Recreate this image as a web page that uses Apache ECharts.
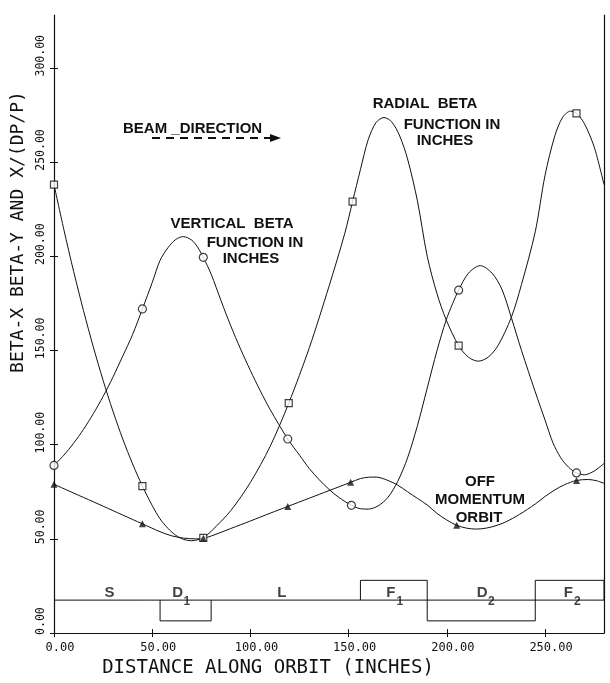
<!DOCTYPE html>
<html><head><meta charset="utf-8">
<script src="https://cdn.jsdelivr.net/npm/echarts@6/dist/echarts.min.js"></script>
<style>html,body{margin:0;padding:0;background:#fff}#c{width:610px;height:683px}</style>
</head><body><div id="c"></div>
<script>
// ---- data ----
const xTicks = [0, 50, 100, 150, 200, 250];
const yTicks = [0, 50, 100, 150, 200, 250, 300];

const radialCurve = [[0,238],[5,214.2],[10,191.9],[15,171.2],[20,151.9],[25,134.1],[30,117.8],[35,103],[40,89.8],[45,78],[50,67.7],[54,60.6],[58,55.6],[62,51.9],[66,49.7],[70,49],[74,49.7],[76,50.5],[80,54],[90,65],[100,80],[110,99],[119.5,122],[130,151.5],[140,184],[148,212],[152,229],[156,246],[160,262],[164,271],[168,273.6],[172,271.2],[176,263.8],[180,251.6],[185,229.4],[190,200],[195,180],[199.6,166.4],[206,152.5],[211,146.4],[216,144.3],[221,146.4],[226,152.5],[232.8,167.5],[238,185],[245,213],[250,243],[255,264],[259,273.8],[263,277],[266,275.8],[270,270.4],[275,258],[280,238]];
const radialMarks = [[0,238],[45,78],[76,50.5],[119.5,122],[152,229],[206,152.5],[266,275.8]];

const verticalCurve = [[0,89],[5,94.4],[10,100.8],[15,108.1],[20,116.4],[25,125.6],[30,135.8],[35,147],[40,158.4],[45,172],[50,186],[54,197.8],[58,204.5],[62,208.9],[65.8,210.4],[70,208.6],[73,205],[76,199.4],[80,190.5],[85,176.5],[90,163],[95,150.7],[100,139.3],[105,128.6],[110,118.7],[119,103],[125,94.4],[130,87.3],[135,81.4],[140,76.3],[145,72],[151.4,67.8],[156,66],[160,65.8],[165,67.5],[170,72],[175,80.5],[180,93],[185,110],[190,130],[195,150],[199.6,166],[203,175],[206,182],[211,191],[217,195],[223,191],[228,182.5],[232.8,167.5],[238,150],[245,128],[250,113],[254,101],[258,93],[262,88],[266,85],[270,84],[275,86],[280,90]];
const verticalMarks = [[0,89],[45,172],[76,199.4],[119,103],[151.4,67.8],[206,182],[266,85]];

const offMomCurve = [[0,79],[10,74.3],[20,69.7],[30,65],[40,60.3],[45,58],[54,53.8],[60,51.6],[66,50.4],[72,50],[76,50.3],[80,51.5],[90,55.5],[100,59.5],[110,63.6],[119,67.2],[130,71.6],[140,75.6],[151,80],[156,82],[160,82.7],[164,82.8],[170,81],[175,78.5],[180,75],[185,71.5],[190,68],[195,63.5],[200,60],[205,57.2],[210,55.7],[215,55.2],[220,55.7],[225,57],[230,59],[237,63],[245,68.5],[250,72.5],[255,76],[260,78.8],[266,81],[272,81.5],[276,80.9],[280,79.5]];
const offMomMarks = [[0,79],[45,58],[76,50.3],[119,67.2],[151,80],[205,57.2],[266,81]];

const latticeBase = 17.5;
const elemStart = [54, 156, 190, 245];
const elemEnd = [80, 190, 245, 280];
const elemLevel = [6.5, 28, 6.5, 28];
const elemLetters = [['S',28.3],['D',63],['L',116],['F',171.5],['D',218],['F',261.8]];
const elemSubs = [['1',63],['1',171.5],['2',218],['2',261.8]];

const xMax = 280, yMax = 328;
const xName = 'DISTANCE ALONG ORBIT (INCHES)';
const yName = 'BETA-X BETA-Y AND X/(DP/P)';

// ---- chart ----
const ink = '#111';
const mono = '"DejaVu Sans Mono", monospace';
const boldFam = '"Liberation Sans", Arial, sans-serif';
const bfont = 'bold 15px "Liberation Sans", Arial, sans-serif';
const chart = echarts.init(document.getElementById('c'), null, {renderer:'canvas'});

const lineStyle = {color: ink, width: 1};
const curve = (d) => ({type:'line', data:d, smooth:0.3, symbol:'none', lineStyle, silent:true, z:3});
const marks = (d, sym, size, filled) => ({type:'scatter', data:d, symbol:sym, symbolSize:size,
  itemStyle: filled ? {color: ink} : {color:'#fff', borderColor: ink, borderWidth: 1.2}, z:5, silent:true});

const series = [
  curve(radialCurve), curve(verticalCurve), curve(offMomCurve),
  marks(radialMarks, 'rect', 7, false),
  marks(verticalMarks, 'circle', 8, false),
  marks(offMomMarks, 'triangle', 7, true),
  {type:'line', data:[[0,latticeBase],[xMax,latticeBase]], symbol:'none', lineStyle, silent:true}
];
elemStart.forEach((s,i) => {
  series.push({type:'line', symbol:'none', lineStyle, silent:true,
    data:[[s,latticeBase],[s,elemLevel[i]],[elemEnd[i],elemLevel[i]],[elemEnd[i],latticeBase]]});
});
series.push({type:'scatter', symbolSize:0, silent:true, z:6,
  data: elemLetters.map(l => ({value:[l[1], latticeBase], name:l[0]})),
  label:{show:true, position:'top', distance:0, color:ink, formatter: p => p.name,
    fontFamily:boldFam, fontWeight:'bold', fontSize:15}
});
series.push({type:'scatter', symbolSize:0, silent:true, z:6,
  data: elemSubs.map(l => ({value:[l[1], latticeBase], name:l[0]})),
  label:{show:true, position:'inside', offset:[9,2], color:ink, formatter: p => p.name,
    fontFamily:boldFam, fontWeight:'bold', fontSize:12}
});

const fmt = v => v.toFixed(2);
chart.setOption({
  backgroundColor:'#fff',
  animation:false,
  grid:{left:54, right:6, top:15, bottom:44},
  xAxis:[{
    type:'value', min:0, max:xMax,
    name:xName, nameLocation:'middle', nameGap:24,
    nameTextStyle:{fontFamily:mono, fontSize:19, color:ink, padding:[0,122,0,0]},
    axisLine:{lineStyle:{color:ink, width:1.2}},
    axisTick:{show:true, inside:false, length:4, lineStyle:{color:ink}, customValues:xTicks},
    axisLabel:{color:ink, fontFamily:mono, fontSize:12, margin:9, padding:[0,0,0,12], formatter:fmt, customValues:xTicks},
    splitLine:{show:false}
  },{
    type:'value', min:0, max:xMax, position:'bottom',
    axisLine:{show:false}, axisLabel:{show:false}, splitLine:{show:false},
    axisTick:{show:true, inside:true, length:4, lineStyle:{color:ink}, customValues:xTicks}
  }],
  yAxis:[{
    type:'value', min:0, max:yMax,
    name:yName, nameLocation:'middle', nameGap:27,
    nameTextStyle:{fontFamily:mono, fontSize:18, color:ink, padding:[0,0,0,184]},
    axisLine:{lineStyle:{color:ink, width:1.2}},
    axisTick:{show:true, inside:false, length:4, lineStyle:{color:ink}, customValues:yTicks},
    axisLabel:{color:ink, fontFamily:mono, fontSize:11.5, margin:7, rotate:90, padding:[0,0,0,24], formatter:fmt, customValues:yTicks},
    splitLine:{show:false}
  },{
    type:'value', min:0, max:yMax, position:'left',
    axisLine:{show:false}, axisLabel:{show:false}, splitLine:{show:false},
    axisTick:{show:true, inside:true, length:4, lineStyle:{color:ink}, customValues:yTicks}
  },{
    type:'value', min:0, max:yMax, position:'right',
    axisLine:{show:true, onZero:false, lineStyle:{color:ink, width:1.2}}, axisLabel:{show:false}, axisTick:{show:false}, splitLine:{show:false}
  }],
  series: series,
  graphic:[
    {type:'text', left:123, top:121, style:{text:'BEAM _DIRECTION', font:bfont, fill:ink}},
    {type:'line', shape:{x1:152, y1:138, x2:272, y2:138}, style:{stroke:ink, lineWidth:2, lineDash:[8,6]}},
    {type:'polygon', shape:{points:[[270,134],[281,138],[270,142]]}, style:{fill:ink}},
    {type:'text', x:232, y:224, style:{text:'VERTICAL  BETA', align:'center', verticalAlign:'middle', font:bfont, fill:ink}},
    {type:'text', x:255, y:243, style:{text:'FUNCTION IN', align:'center', verticalAlign:'middle', font:bfont, fill:ink}},
    {type:'text', x:251, y:259, style:{text:'INCHES', align:'center', verticalAlign:'middle', font:bfont, fill:ink}},
    {type:'text', x:425, y:104, style:{text:'RADIAL  BETA', align:'center', verticalAlign:'middle', font:bfont, fill:ink}},
    {type:'text', x:452, y:125, style:{text:'FUNCTION IN', align:'center', verticalAlign:'middle', font:bfont, fill:ink}},
    {type:'text', x:445, y:141, style:{text:'INCHES', align:'center', verticalAlign:'middle', font:bfont, fill:ink}},
    {type:'text', x:480, y:482, style:{text:'OFF', align:'center', verticalAlign:'middle', font:bfont, fill:ink}},
    {type:'text', x:480, y:500, style:{text:'MOMENTUM', align:'center', verticalAlign:'middle', font:bfont, fill:ink}},
    {type:'text', x:479, y:518, style:{text:'ORBIT', align:'center', verticalAlign:'middle', font:bfont, fill:ink}}
  ]
});
</script></body></html>
